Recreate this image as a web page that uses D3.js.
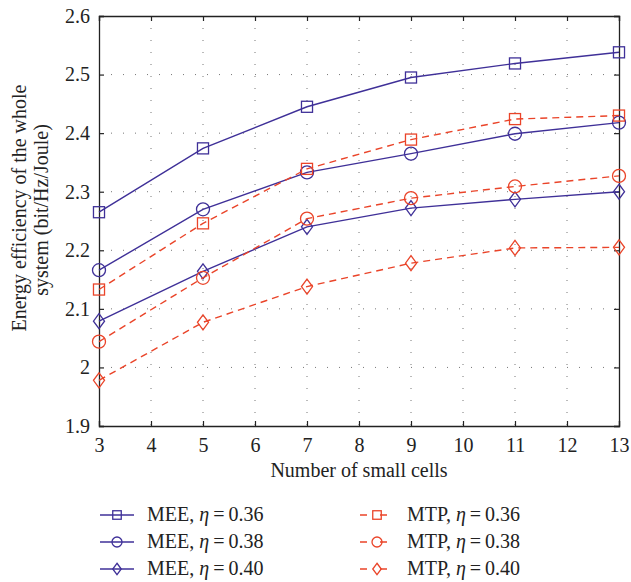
<!DOCTYPE html>
<html>
<head>
<meta charset="utf-8">
<script src="https://cdn.jsdelivr.net/npm/d3@7"></script>
<style>
  body { margin: 0; background: #fff; }
  svg text { font-family: "Liberation Serif", "DejaVu Serif", serif; fill: #222; }
</style>
</head>
<body>
<svg id="chart" width="631" height="582"></svg>
<script>
const cells = [3, 5, 7, 9, 11, 13];
const xTicks = [3, 4, 5, 6, 7, 8, 9, 10, 11, 12, 13];
const yTicks = [1.9, 2, 2.1, 2.2, 2.3, 2.4, 2.5, 2.6];

const mee036 = [2.265, 2.374, 2.445, 2.495, 2.519, 2.538];
const mee038 = [2.166, 2.270, 2.333, 2.365, 2.399, 2.418];
const mee040 = [2.079, 2.164, 2.240, 2.272, 2.287, 2.300];
const mtp036 = [2.133, 2.246, 2.339, 2.389, 2.424, 2.430];
const mtp038 = [2.044, 2.153, 2.254, 2.289, 2.309, 2.327];
const mtp040 = [1.978, 2.077, 2.138, 2.178, 2.204, 2.205];

const blue = "#3f3098";
const red = "#ea4429";

const series = [
  { name: "MEE", eta: "0.36", values: mee036, color: blue, dash: null, marker: "square" },
  { name: "MEE", eta: "0.38", values: mee038, color: blue, dash: null, marker: "circle" },
  { name: "MEE", eta: "0.40", values: mee040, color: blue, dash: null, marker: "diamond" },
  { name: "MTP", eta: "0.36", values: mtp036, color: red, dash: "7,5", marker: "square" },
  { name: "MTP", eta: "0.38", values: mtp038, color: red, dash: "7,5", marker: "circle" },
  { name: "MTP", eta: "0.40", values: mtp040, color: red, dash: "7,5", marker: "diamond" }
];

const margin = { left: 99, top: 16, right: 12, bottom: 156 };
const width = 619 - margin.left;
const height = 426 - margin.top;
const fontSize = 20;

const svg = d3.select("#chart");
const g = svg.append("g").attr("transform", `translate(${margin.left},${margin.top})`);

const x = d3.scaleLinear().domain([3, 13]).range([0, width]);
const y = d3.scaleLinear().domain([1.9, 2.6]).range([height, 0]);

// dotted grid
g.append("g").selectAll("line").data(xTicks.slice(1, -1)).join("line")
  .attr("x1", d => x(d)).attr("x2", d => x(d)).attr("y1", 0).attr("y2", height)
  .attr("stroke", "#777").attr("stroke-width", 1).attr("stroke-dasharray", "1,11");
g.append("g").selectAll("line").data(yTicks.slice(1, -1)).join("line")
  .attr("y1", d => y(d)).attr("y2", d => y(d)).attr("x1", 0).attr("x2", width)
  .attr("stroke", "#777").attr("stroke-width", 1).attr("stroke-dasharray", "1,11");

// axes, ticks pointing inward
const fmt = d3.format("");
g.append("g").attr("transform", `translate(0,${height})`)
  .call(d3.axisBottom(x).tickValues(xTicks).tickSize(-5).tickPadding(12).tickFormat(fmt));
g.append("g")
  .call(d3.axisTop(x).tickValues(xTicks).tickSize(-5).tickFormat(""));
g.append("g")
  .call(d3.axisLeft(y).tickValues(yTicks).tickSize(-5).tickPadding(9).tickFormat(fmt));
g.append("g").attr("transform", `translate(${width},0)`)
  .call(d3.axisRight(y).tickValues(yTicks).tickSize(-5).tickFormat(""));

g.selectAll(".domain").attr("stroke", "#222").attr("stroke-width", 1.3);
g.selectAll(".tick line").attr("stroke", "#222").attr("stroke-width", 1.2);
g.selectAll(".tick text").attr("font-size", fontSize).attr("fill", "#222")
  .attr("font-family", "Liberation Serif, serif");

// axis labels
svg.append("text").attr("x", 359).attr("y", 477).attr("text-anchor", "middle")
  .attr("font-size", fontSize).text("Number of small cells");
svg.append("text").attr("transform", "translate(26,208) rotate(-90)")
  .attr("text-anchor", "middle").attr("font-size", fontSize).text("Energy efficiency of the whole");
svg.append("text").attr("transform", "translate(48,210) rotate(-90)")
  .attr("text-anchor", "middle").attr("font-size", fontSize).text("system (bit/Hz/Joule)");

function drawMarker(sel, type, color, s) {
  if (type === "square") {
    sel.append("rect").attr("x", -s * 0.85).attr("y", -s * 0.85)
      .attr("width", s * 1.7).attr("height", s * 1.7);
  } else if (type === "circle") {
    sel.append("circle").attr("r", s);
  } else {
    sel.append("path").attr("d", `M0,${-s * 1.15}L${s * 0.85},0L0,${s * 1.15}L${-s * 0.85},0Z`);
  }
  sel.selectAll("rect,circle,path").attr("fill", "none").attr("stroke", color).attr("stroke-width", 1.3);
}

const line = d3.line().x((d, i) => x(cells[i])).y(d => y(d));

series.forEach(s => {
  g.append("path").datum(s.values).attr("d", line)
    .attr("fill", "none").attr("stroke", s.color).attr("stroke-width", 1.4)
    .attr("stroke-dasharray", s.dash);
  s.values.forEach((v, i) => {
    const m = g.append("g").attr("transform", `translate(${x(cells[i])},${y(v)})`);
    drawMarker(m, s.marker, s.color, 6.5);
  });
});

// legend
const legX = [100, 360];
const legY = [515, 542, 569];
series.forEach((s, i) => {
  const col = Math.floor(i / 3), row = i % 3;
  const lg = svg.append("g").attr("transform", `translate(${legX[col]},${legY[row]})`);
  lg.append("line").attr("x1", 0).attr("x2", 34).attr("y1", 0).attr("y2", 0)
    .attr("stroke", s.color).attr("stroke-width", 1.4).attr("stroke-dasharray", s.dash ? "7,13,7" : null);
  const m = lg.append("g").attr("transform", "translate(17,0)");
  drawMarker(m, s.marker, s.color, 5);
  const t = lg.append("text").attr("x", 47).attr("y", 6).attr("font-size", fontSize);
  t.append("tspan").text(s.name + ", ");
  t.append("tspan").attr("font-style", "italic").text("η");
  t.append("tspan").text("\u2009=\u20090." + s.eta.slice(2));
});
</script>
</body>
</html>
